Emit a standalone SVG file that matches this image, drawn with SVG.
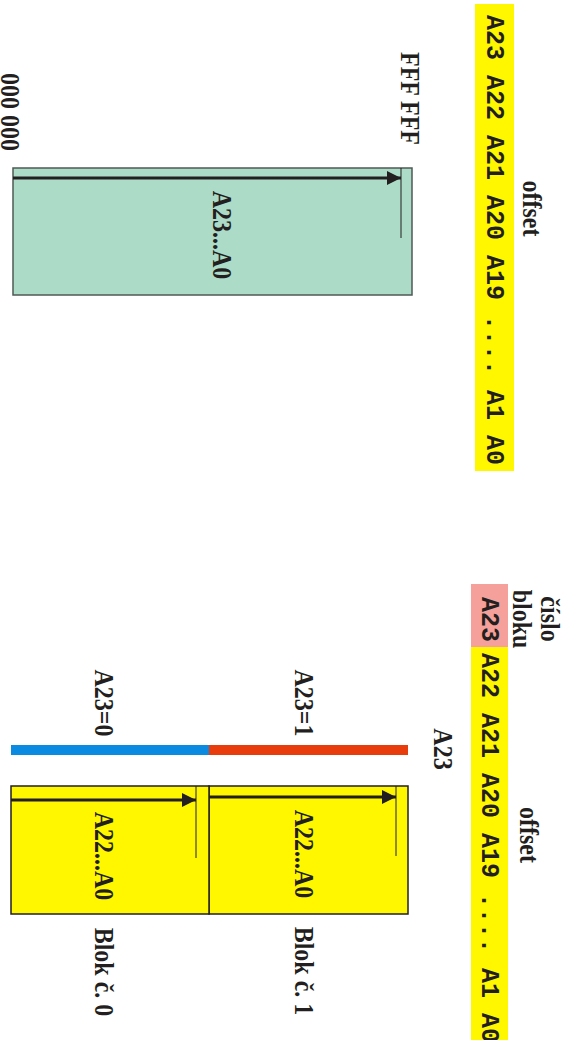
<svg xmlns="http://www.w3.org/2000/svg" width="573" height="1040" viewBox="0 0 573 1040">
  <style>
    .serif { font-family: "Liberation Serif", "Times New Roman", serif; font-weight: bold; font-size: 24px; fill: #231f20; text-anchor: middle; }
    .mono { font-family: "Liberation Mono", "Courier New", monospace; font-weight: bold; font-size: 25px; fill: #231f20; }
    .arrow { stroke: #231f20; stroke-width: 3; fill: none; marker-end: url(#head); }
    .tick { stroke: #231f20; stroke-width: 1; }
    .block { fill: #fff700; stroke: #231f20; stroke-width: 1.5; }
  </style>
  <defs>
    <marker id="head" markerUnits="userSpaceOnUse" markerWidth="16" markerHeight="16" refX="14" refY="7" orient="auto">
      <path d="M0,0 L14,7 L0,14 z" fill="#231f20"/>
    </marker>
  </defs>

  <!-- upper picture: flat 24-bit address space -->
  <g id="address-bits-flat">
    <rect x="475" y="4" width="39" height="467" fill="#fff700"/>
    <text class="mono" transform="translate(487,15) rotate(90)">A23 A22 A21 A20 A19 .... A1 A0</text>
  </g>
  <g id="label-offset-flat">
    <text class="serif" transform="translate(523,208.5) rotate(90) scale(1,1.1)">offset</text>
  </g>
  <g id="label-top-address">
    <text class="serif" transform="translate(400.5,98.5) rotate(90) scale(1,1.1)">FFF FFF</text>
  </g>
  <g id="label-bottom-address">
    <text class="serif" transform="translate(0.5,112) rotate(90) scale(1,1.1)">000 000</text>
  </g>
  <g id="memory-flat">
    <rect x="13" y="168" width="399" height="127" fill="#acdcc8" stroke="#4f5a55" stroke-width="1.5"/>
    <text class="serif" transform="translate(213,235) rotate(90) scale(1,1.1)">A23...A0</text>
  </g>

  <!-- lower picture: A23 selects one of two blocks -->
  <g id="address-bits-blocks">
    <rect x="471" y="584" width="37" height="63" fill="#f5a09a"/>
    <rect x="471" y="647" width="37" height="393" fill="#fff700"/>
    <text class="mono" transform="translate(482,597) rotate(90)">A23</text>
    <text class="mono" transform="translate(482,653) rotate(90)">A22 A21 A20 A19 .... A1 A0</text>
  </g>
  <g id="label-block-number">
    <text class="serif" transform="translate(541,619) rotate(90) scale(1,1.1)">číslo</text>
    <text class="serif" transform="translate(513,619) rotate(90) scale(1,1.1)">bloku</text>
  </g>
  <g id="label-offset-blocks">
    <text class="serif" transform="translate(520,835) rotate(90) scale(1,1.1)">offset</text>
  </g>
  <g id="selector-a23">
    <text class="serif" transform="translate(434,749) rotate(90) scale(1,1.1)">A23</text>
    <rect x="209" y="745" width="199" height="10" fill="#e83c0c"/>
    <rect x="11" y="745" width="198" height="10" fill="#0a8ae0"/>
    <text class="serif" transform="translate(295,703) rotate(90) scale(1,1.1)">A23=1</text>
    <text class="serif" transform="translate(95,703) rotate(90) scale(1,1.1)">A23=0</text>
  </g>
  <g id="block-1">
    <rect class="block" x="209" y="786" width="199" height="128"/>
    <text class="serif" transform="translate(295,854) rotate(90) scale(1,1.1)">A22...A0</text>
    <text class="serif" transform="translate(295,971) rotate(90) scale(1,1.1)">Blok č. 1</text>
  </g>
  <g id="block-0">
    <rect class="block" x="11" y="786" width="198" height="128"/>
    <text class="serif" transform="translate(95,856) rotate(90) scale(1,1.1)">A22...A0</text>
    <text class="serif" transform="translate(95,972) rotate(90) scale(1,1.1)">Blok č. 0</text>
  </g>

  <!-- address-range arrows with end ticks -->
  <g id="connectors">
    <line class="arrow" x1="13" y1="178" x2="401" y2="178"/>
    <line class="tick" x1="401" y1="168" x2="401" y2="238"/>
    <line class="arrow" x1="209" y1="797" x2="396" y2="797"/>
    <line class="tick" x1="396" y1="786" x2="396" y2="856"/>
    <line class="arrow" x1="11" y1="800" x2="196" y2="800"/>
    <line class="tick" x1="196" y1="786" x2="196" y2="858"/>
  </g>
</svg>
